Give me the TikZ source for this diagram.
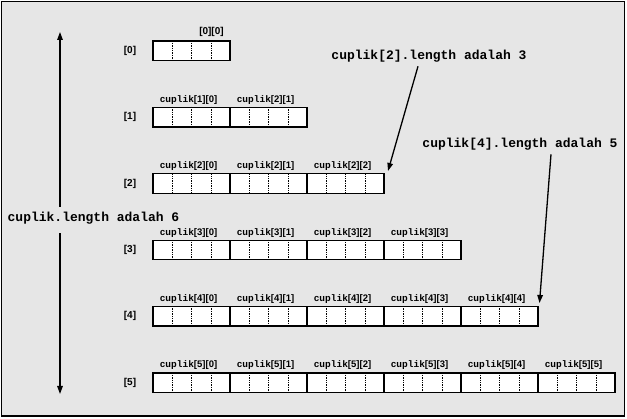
\documentclass[tikz,border=0pt]{standalone}
\usepackage{fontspec}
\newfontfamily\cmono{Liberation Mono}
\newfontfamily\csans{Liberation Sans}
\usetikzlibrary{calc,arrows.meta}
\definecolor{bggray}{HTML}{E6E6E6}
\begin{document}
\begin{tikzpicture}[x=1pt,y=-1pt,
  blk/.style={draw,fill=white,line width=1.3pt,minimum width=77pt,minimum height=19.5pt,inner sep=0pt},
  sep/.style={line width=0.8pt,dash pattern=on 1.5pt off 0.9pt},
  rowlab/.style={font=\csans\bfseries\fontsize{10}{12}\selectfont,inner sep=0pt},
  lab/.style={inner sep=0pt},
  note/.style={font=\cmono\bfseries\fontsize{13}{15}\selectfont,inner sep=0pt},
  arr/.style={line width=1.3pt,-{Triangle[length=8pt,width=5.5pt]}}]
\useasboundingbox (0,0) rectangle (627,419);
\draw[line width=1.6pt,fill=bggray] (1.5,1.5) rectangle (624.5,416);
\newcommand{\cl}[2]{{\cmono\bfseries\fontsize{9.5}{12}\selectfont cuplik}{\csans\bfseries\fontsize{9.5}{11}\selectfont[#1][#2]}}
\foreach \r in {0,...,5}{
  \node[rowlab] (r\r) at (130,{50.75+66.4*\r}) {[\r]};
  \foreach \j in {0,...,\r}{
    \node[blk] (b\r\j) at ({153+77*\j+38.5},{50.75+66.4*\r}) {};
    \foreach \k in {1,2,3}
      \draw[sep] ($(b\r\j.north west)!\k/4!(b\r\j.north east)$) -- ($(b\r\j.south west)!\k/4!(b\r\j.south east)$);
    \ifnum\r=0
      \node[lab,font=\csans\bfseries\fontsize{10}{12}\selectfont] (l\r\j) at ($(b\r\j.north)+(20,-8)$) {[0][0]};
    \else\ifnum\r=1 \ifnum\j=1
      \node[lab] (l\r\j) at ($(b\r\j.north)+(-3,-7)$) {\cl{2}{1}};
    \else
      \node[lab] (l\r\j) at ($(b\r\j.north)+(-3,-7)$) {\cl{\r}{\j}};
    \fi\else
      \node[lab] (l\r\j) at ($(b\r\j.north)+(-3,-7)$) {\cl{\r}{\j}};
    \fi\fi
  }
}
\node[note] (n1) at (429,56) {cuplik[2].length adalah 3};
\node[note] (n2) at (520,144) {cuplik[4].length adalah 5};
\node[note] (n3) at (93.5,218) {cuplik.length adalah 6};
\coordinate (t1) at (388,171);
\coordinate (t2) at (539.5,303);
\coordinate (vt) at (60,32);
\coordinate (vb) at (60,394);
\draw[arr] ([xshift=-11pt,yshift=-4pt]n1.south) -- (t1);
\draw[arr] ([xshift=31pt,yshift=-4pt]n2.south) -- (t2);
\draw[arr,shorten <=5pt] (n3.north -| vt) -- (vt);
\draw[arr,shorten <=9pt] (n3.south -| vb) -- (vb);
\end{tikzpicture}
\end{document}
